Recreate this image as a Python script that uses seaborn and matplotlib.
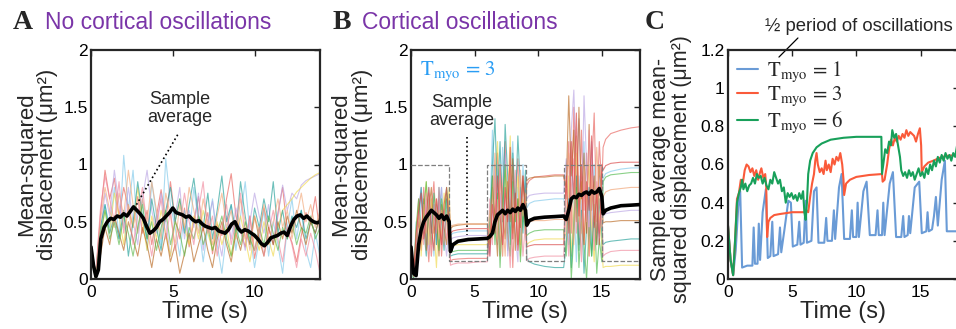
import numpy as np
import pandas as pd
import matplotlib
matplotlib.use("Agg")
import matplotlib.pyplot as plt
import seaborn as sns

# ---------------- panel A: no cortical oscillations ----------------
A_COLORS = ["#e8605a", "#7ec8ea", "#b9a3e3", "#f0d848", "#1f9e96",
            "#b8661e", "#f2a878", "#5cb84c", "#f0889c"]
a_trace_1 = [0.30, 0.02, 0.55, 0.95, 0.70, 0.88, 0.55, 0.80, 0.62, 0.45, 0.72, 0.40, 0.60, 0.30, 0.55, 0.78, 0.50,
             0.85, 0.52, 0.35, 0.62, 0.28, 0.50, 0.72, 0.42, 0.58, 0.22, 0.48, 0.38, 0.70, 0.92, 0.55, 0.42, 0.28,
             0.55, 0.18, 0.40, 0.62, 0.45, 0.30, 0.58, 0.80, 0.42, 0.32, 0.15, 0.38, 0.58, 0.48, 0.72, 0.40]
a_trace_2 = [0.20, 0.00, 0.30, 0.65, 0.45, 0.80, 0.35, 1.08, 0.60, 0.95, 0.40, 0.70, 0.25, 0.85, 0.55, 0.30, 1.05,
             0.65, 0.45, 0.20, 0.60, 0.35, 0.80, 0.50, 0.15, 0.45, 0.70, 0.30, 0.05, 0.40, 0.65, 0.25, 0.55, 0.85,
             0.40, 0.10, 0.35, 0.60, 0.20, 0.50, 0.30, 0.05, 0.45, 0.70, 0.35, 0.60, 0.25, 0.10, 0.40, 0.20]
a_trace_3 = [0.25, 0.05, 0.40, 0.75, 0.55, 0.95, 0.65, 0.45, 0.80, 0.50, 0.30, 0.70, 0.95, 0.60, 0.40, 0.75, 0.50,
             0.20, 0.55, 0.80, 0.35, 0.60, 0.45, 0.75, 0.25, 0.50, 0.68, 0.40, 0.20, 0.55, 0.35, 0.62, 0.45, 0.25,
             0.50, 0.75, 0.55, 0.40, 0.65, 0.30, 0.55, 0.82, 0.60, 0.75, 0.70, 0.82, 0.86, 0.88, 0.90, 0.92]
a_trace_4 = [0.18, 0.00, 0.35, 0.60, 0.40, 0.75, 0.55, 0.30, 0.65, 0.45, 0.80, 0.50, 0.25, 0.55, 0.35, 0.60, 0.40,
             0.20, 0.50, 0.70, 0.45, 0.30, 0.55, 0.35, 0.60, 0.40, 0.25, 0.50, 0.30, 0.45, 0.20, 0.40, 0.55, 0.35,
             0.15, 0.40, 0.25, 0.50, 0.35, 0.20, 0.45, 0.60, 0.65, 0.70, 0.76, 0.80, 0.84, 0.88, 0.91, 0.93]
a_trace_5 = [0.22, 0.02, 0.45, 0.65, 0.40, 0.55, 0.35, 0.60, 0.20, 0.50, 0.85, 0.55, 0.35, 0.70, 0.45, 0.25, 0.60,
             0.80, 0.50, 0.70, 0.40, 0.65, 0.88, 0.55, 0.45, 0.75, 0.35, 0.60, 0.90, 0.50, 0.65, 0.40, 0.85, 0.55,
             0.30, 0.62, 0.45, 0.70, 0.50, 0.85, 0.40, 0.60, 0.35, 0.55, 0.45, 0.60, 0.35, 0.50, 0.40, 0.55]
a_trace_6 = [0.28, 0.05, 0.20, 0.45, 0.30, 0.55, 0.40, 0.25, 0.50, 0.35, 0.20, 0.45, 0.30, 0.10, 0.35, 0.20, 0.40,
             0.15, 0.30, 0.05, 0.22, 0.40, 0.15, 0.30, 0.45, 0.25, 0.10, 0.35, 0.50, 0.30, 0.15, 0.40, 0.25, 0.45,
             0.30, 0.55, 0.35, 0.20, 0.45, 0.30, 0.50, 0.35, 0.55, 0.40, 0.60, 0.45, 0.30, 0.50, 0.40, 0.55]
a_trace_7 = [0.26, 0.03, 0.50, 0.80, 0.60, 0.45, 0.75, 0.55, 0.95, 0.65, 0.40, 0.70, 0.50, 0.85, 0.60, 0.35, 0.75,
             0.55, 0.30, 0.65, 0.45, 0.80, 0.60, 0.40, 0.70, 0.50, 0.30, 0.55, 0.75, 0.45, 0.60, 0.35, 0.70, 0.50,
             0.25, 0.55, 0.40, 0.65, 0.30, 0.50, 0.70, 0.45, 0.60, 0.35, 0.55, 0.75, 0.50, 0.65, 0.45, 0.60]
a_trace_8 = [0.20, 0.00, 0.40, 0.60, 0.35, 0.50, 0.30, 0.55, 0.40, 0.20, 0.45, 0.65, 0.35, 0.50, 0.25, 0.45, 0.60,
             0.30, 0.50, 0.40, 0.20, 0.45, 0.35, 0.55, 0.30, 0.45, 0.25, 0.40, 0.55, 0.35, 0.20, 0.45, 0.30, 0.50,
             0.35, 0.25, 0.45, 0.30, 0.55, 0.40, 0.25, 0.45, 0.35, 0.50, 0.30, 0.45, 0.40, 0.55, 0.35, 0.45]
a_trace_9 = [0.32, 0.04, 0.60, 0.90, 0.70, 0.50, 0.85, 0.40, 0.65, 0.30, 0.55, 0.80, 0.45, 0.20, 0.50, 0.70, 0.35,
             0.60, 0.25, 0.45, 0.75, 0.50, 0.30, 0.60, 0.85, 0.40, 0.55, 0.20, 0.45, 0.65, 0.30, 0.50, 0.75, 0.35,
             0.55, 0.25, 0.45, 0.20, 0.40, 0.60, 0.35, 0.15, 0.45, 0.30, 0.10, 0.35, 0.20, 0.40, 0.25, 0.05]
A_TRACES = [a_trace_1, a_trace_2, a_trace_3, a_trace_4, a_trace_5,
            a_trace_6, a_trace_7, a_trace_8, a_trace_9]

# sample average (time, msd)
A_AVG = [(0.0, 0.28), (0.15, 0.12), (0.3, 0.02), (0.45, 0.08), (0.6, 0.35), (0.8, 0.45), (1.0, 0.50),
         (1.2, 0.53), (1.4, 0.52), (1.6, 0.55), (1.8, 0.54), (2.0, 0.57), (2.2, 0.55), (2.4, 0.59),
         (2.6, 0.63), (2.8, 0.60), (3.0, 0.57), (3.2, 0.53), (3.4, 0.46), (3.6, 0.40), (3.8, 0.42),
         (4.0, 0.45), (4.2, 0.50), (4.4, 0.52), (4.6, 0.55), (4.8, 0.58), (5.0, 0.62), (5.2, 0.58),
         (5.4, 0.57), (5.6, 0.56), (5.8, 0.54), (6.0, 0.55), (6.2, 0.52), (6.4, 0.50), (6.6, 0.51),
         (6.8, 0.48), (7.0, 0.46), (7.2, 0.45), (7.4, 0.44), (7.6, 0.45), (7.8, 0.42), (8.0, 0.41),
         (8.2, 0.40), (8.4, 0.43), (8.6, 0.48), (8.8, 0.50), (9.0, 0.44), (9.2, 0.41), (9.4, 0.43),
         (9.6, 0.42), (9.8, 0.40), (10.0, 0.38), (10.2, 0.35), (10.4, 0.31), (10.6, 0.29), (10.8, 0.32),
         (11.0, 0.36), (11.2, 0.37), (11.4, 0.38), (11.6, 0.40), (11.8, 0.41), (12.0, 0.38), (12.2, 0.46),
         (12.4, 0.52), (12.6, 0.55), (12.8, 0.56), (13.0, 0.53), (13.2, 0.55), (13.4, 0.52), (13.6, 0.50),
         (13.8, 0.49), (14.0, 0.50)]

# ---------------- panel B: cortical oscillations, T_myo = 3 ----------------
B_COLORS = ["#e8605a", "#7ec8ea", "#b9a3e3", "#f0d848", "#1f9e96",
            "#b8661e", "#4cb848", "#f0a070", "#f0889c", "#d84040"]
# time grid: dense while myosin oscillates, sparse on the plateaus
B_T = ([0.0, 0.2, 0.4, 0.6, 0.8, 1.0, 1.2, 1.4, 1.6, 1.8, 2.0, 2.2, 2.4, 2.6, 2.8, 3.0]
       + [3.1, 3.3, 3.7, 4.5, 5.3, 6.0]
       + [6.2, 6.4, 6.6, 6.8, 7.0, 7.2, 7.4, 7.6, 7.8, 8.0, 8.2, 8.4, 8.6, 8.8, 9.0]
       + [9.1, 9.3, 9.7, 10.5, 11.3, 12.0]
       + [12.2, 12.4, 12.6, 12.8, 13.0, 13.2, 13.4, 13.6, 13.8, 14.0, 14.2, 14.4, 14.6, 14.8, 15.0]
       + [15.1, 15.3, 15.7, 16.5, 17.3, 18.0])

b_trace_1 = ([0.25, 0.02, 0.35, 0.7, 0.3, 0.8, 0.45, 0.15, 0.6, 0.85, 0.4, 0.7, 0.2, 0.55, 0.75, 0.35]
             + [0.16, 0.17, 0.175, 0.18, 0.18, 0.18]
             + [0.3, 0.9, 0.5, 1.1, 0.2, 0.8, 1.2, 0.4, 0.95, 0.1, 0.7, 1.05, 0.3, 0.85, 0.6]
             + [0.82, 0.86, 0.89, 0.9, 0.91, 0.91]
             + [0.7, 1.2, 0.4, 1.5, 0.9, 0.3, 1.3, 0.6, 1.1, 0.2, 0.95, 1.45, 0.5, 1.2, 0.8]
             + [1.15, 1.22, 1.27, 1.30, 1.32, 1.33])
b_trace_2 = ([0.2, 0.0, 0.5, 0.25, 0.75, 0.6, 0.3, 0.8, 0.5, 0.2, 0.65, 0.45, 0.8, 0.3, 0.6, 0.45]
             + [0.38, 0.40, 0.41, 0.42, 0.42, 0.42]
             + [0.5, 1.3, 0.7, 1.0, 0.4, 1.15, 0.6, 0.25, 0.9, 1.2, 0.5, 0.8, 0.35, 1.0, 0.65]
             + [0.62, 0.66, 0.68, 0.69, 0.70, 0.70]
             + [0.6, 0.3, 1.0, 0.7, 0.15, 0.9, 0.5, 1.2, 0.4, 0.8, 0.25, 1.0, 0.6, 0.35, 0.7]
             + [0.88, 0.92, 0.94, 0.96, 0.97, 0.97])
b_trace_3 = ([0.28, 0.05, 0.3, 0.6, 0.8, 0.4, 0.7, 0.25, 0.5, 0.75, 0.3, 0.6, 0.8, 0.4, 0.2, 0.5]
             + [0.34, 0.36, 0.37, 0.38, 0.38, 0.38]
             + [0.2, 0.6, 1.0, 0.3, 0.75, 0.5, 1.1, 0.2, 0.65, 0.9, 0.4, 0.15, 0.8, 0.5, 0.85]
             + [0.70, 0.73, 0.74, 0.75, 0.75, 0.75]
             + [1.05, 0.6, 1.3, 1.65, 0.9, 1.4, 0.5, 1.6, 1.0, 0.3, 1.2, 0.7, 0.4, 0.9, 0.6]
             + [0.55, 0.57, 0.58, 0.59, 0.60, 0.60])
b_trace_4 = ([0.22, 0.03, 0.4, 0.65, 0.2, 0.55, 0.85, 0.3, 0.7, 0.45, 0.1, 0.6, 0.35, 0.75, 0.5, 0.8]
             + [0.28, 0.29, 0.30, 0.30, 0.30, 0.30]
             + [0.6, 0.35, 0.85, 1.2, 0.5, 0.2, 0.95, 0.7, 1.25, 0.4, 0.6, 0.9, 0.2, 0.7, 0.45]
             + [0.30, 0.32, 0.34, 0.35, 0.35, 0.35]
             + [0.4, 0.9, 0.2, 0.6, 1.1, 0.5, 0.85, 0.3, 0.7, 1.0, 0.45, 0.15, 0.8, 0.55, 0.3]
             + [0.10, 0.11, 0.11, 0.12, 0.12, 0.12])
b_trace_5 = ([0.18, 0.0, 0.3, 0.55, 0.8, 0.45, 0.2, 0.7, 0.4, 0.65, 0.3, 0.8, 0.5, 0.25, 0.7, 0.4]
             + [0.20, 0.21, 0.22, 0.22, 0.22, 0.22]
             + [0.4, 1.0, 1.4, 0.7, 1.2, 0.5, 1.35, 0.9, 0.3, 1.1, 0.6, 1.25, 0.8, 0.4, 0.95]
             + [0.18, 0.15, 0.13, 0.11, 0.10, 0.10]
             + [0.3, 0.7, 0.1, 0.5, 0.9, 0.25, 0.6, 0.05, 0.45, 0.8, 0.2, 0.55, 0.3, 0.7, 0.4]
             + [0.30, 0.32, 0.33, 0.34, 0.35, 0.35])
b_trace_6 = ([0.3, 0.05, 0.2, 0.5, 0.35, 0.7, 0.25, 0.6, 0.8, 0.4, 0.55, 0.2, 0.65, 0.45, 0.3, 0.6]
             + [0.44, 0.46, 0.47, 0.48, 0.48, 0.48]
             + [0.3, 0.8, 0.55, 0.2, 1.0, 0.6, 0.35, 0.85, 0.5, 1.05, 0.25, 0.7, 0.45, 0.9, 0.6]
             + [0.86, 0.88, 0.89, 0.89, 0.90, 0.90]
             + [0.8, 1.6, 0.9, 1.3, 0.5, 1.5, 0.7, 1.1, 0.4, 1.35, 0.6, 0.9, 0.3, 1.0, 0.7]
             + [0.49, 0.50, 0.50, 0.51, 0.51, 0.51])
b_trace_7 = ([0.2, 0.0, 0.45, 0.7, 0.4, 0.6, 0.85, 0.5, 0.3, 0.75, 0.55, 0.25, 0.7, 0.5, 0.8, 0.55]
             + [0.23, 0.24, 0.25, 0.25, 0.25, 0.25]
             + [0.5, 0.9, 0.3, 0.75, 0.1, 0.6, 1.0, 0.4, 0.2, 0.85, 0.5, 0.7, 0.15, 0.6, 0.4]
             + [0.38, 0.40, 0.42, 0.43, 0.43, 0.43]
             + [0.2, 0.6, 0.0, 0.4, 0.8, 0.1, 0.5, 0.3, 0.0, 0.45, 0.2, 0.65, 0.05, 0.35, 0.15]
             + [0.85, 0.89, 0.91, 0.92, 0.93, 0.93])
b_trace_8 = ([0.25, 0.02, 0.35, 0.55, 0.25, 0.65, 0.4, 0.75, 0.2, 0.5, 0.7, 0.35, 0.6, 0.3, 0.5, 0.7]
             + [0.46, 0.47, 0.48, 0.48, 0.48, 0.48]
             + [0.4, 0.7, 1.1, 0.35, 0.9, 0.55, 0.2, 0.8, 1.0, 0.45, 0.7, 0.3, 0.95, 0.55, 0.75]
             + [0.48, 0.50, 0.51, 0.51, 0.52, 0.52]
             + [0.5, 1.1, 0.7, 0.3, 1.25, 0.8, 0.4, 1.0, 0.6, 0.2, 0.9, 0.5, 1.15, 0.7, 0.45]
             + [0.72, 0.76, 0.78, 0.79, 0.80, 0.80])
b_trace_9 = ([0.32, 0.04, 0.25, 0.6, 0.45, 0.3, 0.75, 0.55, 0.2, 0.65, 0.4, 0.8, 0.3, 0.6, 0.35, 0.5]
             + [0.12, 0.13, 0.14, 0.14, 0.15, 0.15]
             + [0.7, 0.3, 0.9, 0.5, 1.0, 0.2, 0.75, 0.45, 0.1, 0.6, 0.95, 0.3, 0.65, 0.2, 0.5]
             + [0.16, 0.18, 0.19, 0.20, 0.20, 0.20]
             + [0.6, 0.2, 0.8, 1.05, 0.4, 0.7, 0.15, 0.9, 0.5, 1.3, 0.6, 0.25, 0.85, 0.4, 0.65]
             + [0.20, 0.22, 0.24, 0.25, 0.25, 0.25])
b_trace_10 = ([0.26, 0.03, 0.4, 0.6, 0.75, 0.35, 0.55, 0.8, 0.45, 0.25, 0.7, 0.5, 0.3, 0.65, 0.8, 0.45]
              + [0.40, 0.42, 0.43, 0.44, 0.44, 0.44]
              + [0.2, 0.65, 0.4, 0.9, 0.55, 0.3, 0.8, 0.5, 1.15, 0.35, 0.75, 0.25, 0.6, 0.9, 0.5]
              + [0.28, 0.29, 0.30, 0.30, 0.30, 0.30]
              + [0.9, 0.4, 1.2, 0.7, 1.45, 0.55, 1.0, 0.3, 0.85, 0.6, 1.25, 0.45, 0.75, 0.3, 1.0]
              + [0.95, 0.99, 1.01, 1.02, 1.02, 1.02])
B_TRACES = [b_trace_1, b_trace_2, b_trace_3, b_trace_4, b_trace_5,
            b_trace_6, b_trace_7, b_trace_8, b_trace_9, b_trace_10]

B_AVG = ([0.28, 0.05, 0.03, 0.30, 0.43, 0.50, 0.54, 0.57, 0.60, 0.58, 0.56, 0.53, 0.56, 0.52, 0.55, 0.50]
         + [0.24, 0.30, 0.33, 0.345, 0.35, 0.355]
         + [0.37, 0.40, 0.50, 0.56, 0.58, 0.60, 0.57, 0.60, 0.58, 0.61, 0.59, 0.62, 0.60, 0.65, 0.60]
         + [0.47, 0.51, 0.53, 0.54, 0.545, 0.55]
         + [0.52, 0.60, 0.70, 0.72, 0.71, 0.74, 0.73, 0.75, 0.76, 0.74, 0.77, 0.75, 0.76, 0.79, 0.72]
         + [0.57, 0.60, 0.62, 0.64, 0.645, 0.65])

# on/off envelope of myosin activity (dashed)
B_ENV_T = [0, 3, 6, 9, 12, 15, 18]
B_ENV_V = [1.0, 0.16, 1.0, 0.16, 1.0, 0.16, 0.16]

# ---------------- panel C: sample averages for three periods ----------------
C_LABELS = [r"$\mathrm{T_{myo}}$ = 1", r"$\mathrm{T_{myo}}$ = 3", r"$\mathrm{T_{myo}}$ = 6"]
C_COLORS = ["#6a9bd6", "#fa5a3a", "#18a05a"]
c_tmyo_1 = [(0.0, 0.28), (0.2, 0.10), (0.4, 0.02), (0.6, 0.15), (0.8, 0.38), (0.95, 0.46), (1.1, 0.06),
            (1.5, 0.07), (1.9, 0.07), (2.0, 0.27), (2.1, 0.08), (2.3, 0.08), (2.4, 0.29), (2.5, 0.10),
            (2.7, 0.35), (2.95, 0.47), (3.1, 0.11), (3.3, 0.12), (3.45, 0.30), (3.55, 0.12), (3.9, 0.13),
            (4.05, 0.27), (4.15, 0.14), (4.4, 0.26), (4.7, 0.41), (4.9, 0.40), (5.05, 0.17), (5.4, 0.18),
            (5.55, 0.30), (5.65, 0.18), (5.9, 0.19), (6.05, 0.41), (6.15, 0.19), (6.5, 0.20), (6.7, 0.46),
            (6.9, 0.48), (7.05, 0.19), (7.5, 0.19), (7.65, 0.32), (7.75, 0.20), (8.1, 0.20), (8.25, 0.36),
            (8.35, 0.21), (8.65, 0.48), (8.85, 0.55), (9.05, 0.21), (9.5, 0.21), (9.65, 0.36), (9.75, 0.22),
            (10.0, 0.22), (10.1, 0.40), (10.2, 0.22), (10.55, 0.46), (10.8, 0.51), (11.05, 0.23),
            (11.5, 0.23), (11.65, 0.36), (11.75, 0.23), (12.0, 0.23), (12.1, 0.40), (12.2, 0.23),
            (12.6, 0.50), (12.85, 0.56), (13.1, 0.22), (13.5, 0.22), (13.65, 0.33), (13.75, 0.22),
            (14.0, 0.23), (14.1, 0.33), (14.2, 0.24), (14.55, 0.48), (14.9, 0.51), (15.1, 0.24),
            (15.45, 0.25), (15.55, 0.35), (15.65, 0.25), (15.9, 0.26), (16.05, 0.33), (16.2, 0.43),
            (16.35, 0.28), (16.65, 0.52), (16.9, 0.62), (17.05, 0.25), (18.0, 0.25)]
c_tmyo_3 = [(0.0, 0.28), (0.2, 0.10), (0.4, 0.02), (0.55, 0.20), (0.7, 0.42), (0.85, 0.45), (1.0, 0.52),
            (1.15, 0.50), (1.3, 0.57), (1.45, 0.60), (1.6, 0.59), (1.75, 0.56), (1.9, 0.58), (2.05, 0.54),
            (2.2, 0.57), (2.35, 0.52), (2.5, 0.56), (2.6, 0.58), (2.75, 0.53), (2.9, 0.55), (2.98, 0.48),
            (3.05, 0.22), (3.15, 0.30), (3.3, 0.32), (3.6, 0.335), (4.0, 0.34), (5.0, 0.35), (6.0, 0.35),
            (6.1, 0.36), (6.25, 0.35), (6.4, 0.43), (6.55, 0.50), (6.7, 0.55), (6.8, 0.62), (6.9, 0.66),
            (7.0, 0.60), (7.15, 0.56), (7.3, 0.58), (7.45, 0.55), (7.6, 0.62), (7.7, 0.57), (7.85, 0.60),
            (8.0, 0.56), (8.15, 0.63), (8.3, 0.60), (8.45, 0.64), (8.6, 0.62), (8.75, 0.66), (8.9, 0.60),
            (9.0, 0.52), (9.05, 0.44), (9.2, 0.50), (9.5, 0.52), (10.0, 0.535), (11.0, 0.545), (12.0, 0.55),
            (12.05, 0.51), (12.2, 0.52), (12.4, 0.60), (12.55, 0.68), (12.7, 0.73), (12.85, 0.70),
            (13.0, 0.74), (13.15, 0.72), (13.3, 0.75), (13.45, 0.73), (13.6, 0.76), (13.75, 0.74),
            (13.9, 0.78), (14.05, 0.75), (14.2, 0.77), (14.35, 0.76), (14.5, 0.75), (14.65, 0.72),
            (14.8, 0.76), (14.95, 0.79), (15.05, 0.70), (15.1, 0.56), (15.3, 0.59), (15.6, 0.61),
            (16.0, 0.62), (16.5, 0.635), (17.0, 0.645), (18.0, 0.65)]
c_tmyo_6 = [(0.0, 0.28), (0.2, 0.10), (0.4, 0.02), (0.55, 0.20), (0.7, 0.40), (0.85, 0.45), (1.0, 0.48),
            (1.1, 0.52), (1.2, 0.47), (1.35, 0.50), (1.5, 0.46), (1.65, 0.49), (1.8, 0.50), (1.95, 0.53),
            (2.1, 0.50), (2.25, 0.55), (2.4, 0.53), (2.55, 0.54), (2.7, 0.50), (2.85, 0.53), (3.0, 0.49),
            (3.15, 0.47), (3.3, 0.52), (3.45, 0.50), (3.6, 0.56), (3.75, 0.53), (3.9, 0.50), (4.05, 0.52),
            (4.2, 0.46), (4.35, 0.48), (4.5, 0.40), (4.65, 0.45), (4.8, 0.43), (4.95, 0.45), (5.1, 0.42),
            (5.25, 0.44), (5.4, 0.41), (5.55, 0.45), (5.7, 0.42), (5.85, 0.46), (5.95, 0.35), (6.05, 0.31),
            (6.15, 0.40), (6.25, 0.55), (6.4, 0.62), (6.6, 0.66), (6.9, 0.69), (7.3, 0.71), (8.0, 0.73),
            (9.0, 0.74), (10.0, 0.745), (11.0, 0.745), (11.95, 0.745), (12.0, 0.55), (12.1, 0.60),
            (12.25, 0.68), (12.4, 0.66), (12.55, 0.72), (12.7, 0.70), (12.8, 0.78), (12.95, 0.74),
            (13.1, 0.76), (13.25, 0.70), (13.4, 0.64), (13.5, 0.57), (13.65, 0.54), (13.8, 0.56),
            (13.95, 0.53), (14.1, 0.57), (14.25, 0.54), (14.4, 0.56), (14.55, 0.52), (14.7, 0.55),
            (14.85, 0.58), (15.0, 0.54), (15.15, 0.56), (15.3, 0.53), (15.45, 0.58), (15.6, 0.55),
            (15.75, 0.60), (15.9, 0.57), (16.05, 0.62), (16.2, 0.59), (16.35, 0.64), (16.5, 0.61),
            (16.65, 0.65), (16.8, 0.62), (16.95, 0.66), (17.1, 0.63), (17.25, 0.65), (17.4, 0.62),
            (17.55, 0.66), (17.7, 0.64), (17.85, 0.70), (18.0, 0.72)]
C_SERIES = [c_tmyo_1, c_tmyo_3, c_tmyo_6]

PURPLE = "#7a35a8"
SANS = ["Liberation Sans", "DejaVu Sans"]


def traces_frame(traces, times):
    rows = []
    for i, (vals, tt) in enumerate(zip(traces, times)):
        for t, v in zip(tt, vals):
            rows.append({"t": t, "v": v, "trace": f"tr{i}"})
    return pd.DataFrame(rows)


def style_axes(ax, xlim, ylim, xticks, yticks, yticklabels):
    ax.set_xlim(*xlim)
    ax.set_ylim(*ylim)
    ax.set_xticks(xticks)
    ax.set_yticks(yticks)
    ax.set_yticklabels(yticklabels)
    ax.tick_params(direction="in", top=True, right=True, length=4, width=1.0,
                   labelsize=12.5, colors="#222222", labelcolor="black")
    ax.tick_params(axis="y", pad=2.5)
    ax.tick_params(axis="x", pad=4)
    for sp in ax.spines.values():
        sp.set_linewidth(1.6)
        sp.set_color("#262626")
        sp.set_visible(True)
    ax.set_xlabel("Time (s)", fontsize=17)
    ax.xaxis.set_label_coords(0.5, -0.095)


def main():
    sns.set_style("white")
    plt.rcParams["font.family"] = SANS
    plt.rcParams["mathtext.fontset"] = "stix"

    fig = plt.figure(figsize=(9.56, 3.29), dpi=100)
    ax_a = fig.add_axes([91 / 956, 50 / 329, 229 / 956, 229 / 329])
    ax_b = fig.add_axes([411 / 956, 50 / 329, 229 / 956, 229 / 329])
    ax_c = fig.add_axes([728 / 956, 50 / 329, 231 / 956, 229 / 329])

    # ---- A ----
    a_times = [np.linspace(0, 14, len(v)) for v in A_TRACES]
    fa = traces_frame(A_TRACES, a_times)
    sns.lineplot(data=fa, x="t", y="v", hue="trace",
                 palette=dict(zip(fa["trace"].unique(), A_COLORS)),
                 estimator=None, sort=False, lw=0.8, alpha=0.65, legend=False, ax=ax_a)
    avg_t, avg_v = zip(*A_AVG)
    sns.lineplot(x=list(avg_t), y=list(avg_v), color="black", lw=2.6,
                 estimator=None, sort=False, ax=ax_a)
    style_axes(ax_a, (0, 14), (0, 2), [0, 5, 10], [0, 0.5, 1, 1.5, 2],
               ["0", "0.5", "1", "1.5", "2"])
    ax_a.set_ylabel("Mean-squared\ndisplacement (\u03bcm\u00b2)", fontsize=16, linespacing=1.0)
    ax_a.yaxis.set_label_coords(-0.145, 0.5)
    ax_a.text(5.4, 1.49, "Sample\naverage", fontsize=13, ha="center", va="center", linespacing=1.1)
    ax_a.plot([5.3, 2.7], [1.26, 0.63], ls=":", color="black", lw=1.2)

    # ---- B ----
    fb = traces_frame(B_TRACES, [B_T] * len(B_TRACES))
    sns.lineplot(data=fb, x="t", y="v", hue="trace",
                 palette=dict(zip(fb["trace"].unique(), B_COLORS)),
                 estimator=None, sort=False, lw=0.8, alpha=0.65, legend=False, ax=ax_b)
    ax_b.step(B_ENV_T, B_ENV_V, where="post", ls="--", color="#7f7f7f", lw=0.9, zorder=3)
    sns.lineplot(x=B_T, y=B_AVG, color="black", lw=2.6, estimator=None, sort=False, ax=ax_b, zorder=4)
    style_axes(ax_b, (0, 18), (0, 2), [0, 5, 10, 15], [0, 0.5, 1, 1.5, 2],
               ["0", "0.5", "1", "1.5", "2"])
    ax_b.set_ylabel("Mean-squared\ndisplacement (\u03bcm\u00b2)", fontsize=16, linespacing=1.0)
    ax_b.yaxis.set_label_coords(-0.168, 0.5)
    ax_b.text(0.7, 1.78, r"$\mathrm{T_{myo}}$ = 3", fontsize=15, color="#2a9df4",
              family="STIXGeneral", va="baseline")
    ax_b.text(4.0, 1.46, "Sample\naverage", fontsize=13, ha="center", va="center", linespacing=1.1)
    ax_b.plot([4.4, 4.4], [1.24, 0.38], ls=":", color="black", lw=1.2)

    # ---- C ----
    rows = []
    for lab, ser in zip(C_LABELS, C_SERIES):
        for t, v in ser:
            rows.append({"t": t, "v": v, "series": lab})
    fc = pd.DataFrame(rows)
    sns.lineplot(data=fc, x="t", y="v", hue="series", palette=dict(zip(C_LABELS, C_COLORS)),
                 estimator=None, sort=False, lw=1.5, ax=ax_c)
    style_axes(ax_c, (0, 18), (0, 1.2), [0, 5, 10, 15], [0, 0.2, 0.4, 0.6, 0.8, 1.0, 1.2],
               ["0", "0.2", "0.4", "0.6", "0.8", "1", "1.2"])
    ax_c.set_ylabel("Sample average mean-\nsquared displacement (\u03bcm\u00b2)", fontsize=15.5,
                    linespacing=1.0)
    ax_c.yaxis.set_label_coords(-0.158, 0.48)
    handles, labels = ax_c.get_legend_handles_labels()
    leg = ax_c.legend(handles, labels, loc="upper left", frameon=False, fontsize=15,
                      handlelength=1.0, handletextpad=0.4, labelspacing=0.05,
                      borderaxespad=0.15, borderpad=0.3)
    for txt in leg.get_texts():
        txt.set_family("STIXGeneral")
    ax_c.text(10.2, 1.30, "\u00bd period of oscillations", fontsize=13.3, ha="center",
              va="baseline", clip_on=False)
    ax_c.plot([5.45, 3.97], [1.263, 1.163], color="black", lw=0.9, clip_on=False)

    # ---- panel headers ----
    for x, letter in [(13, "A"), (333, "B"), (645, "C")]:
        fig.text(x / 956, 1 - 29 / 329, letter, fontsize=20, fontweight="bold",
                 family="Liberation Serif", va="baseline")
    fig.text(45 / 956, 1 - 29 / 329, "No cortical oscillations", fontsize=16.5,
             color=PURPLE, va="baseline")
    fig.text(362 / 956, 1 - 29 / 329, "Cortical oscillations", fontsize=16.5,
             color=PURPLE, va="baseline")

    fig.savefig("out.png", dpi=100)


if __name__ == "__main__":
    main()
